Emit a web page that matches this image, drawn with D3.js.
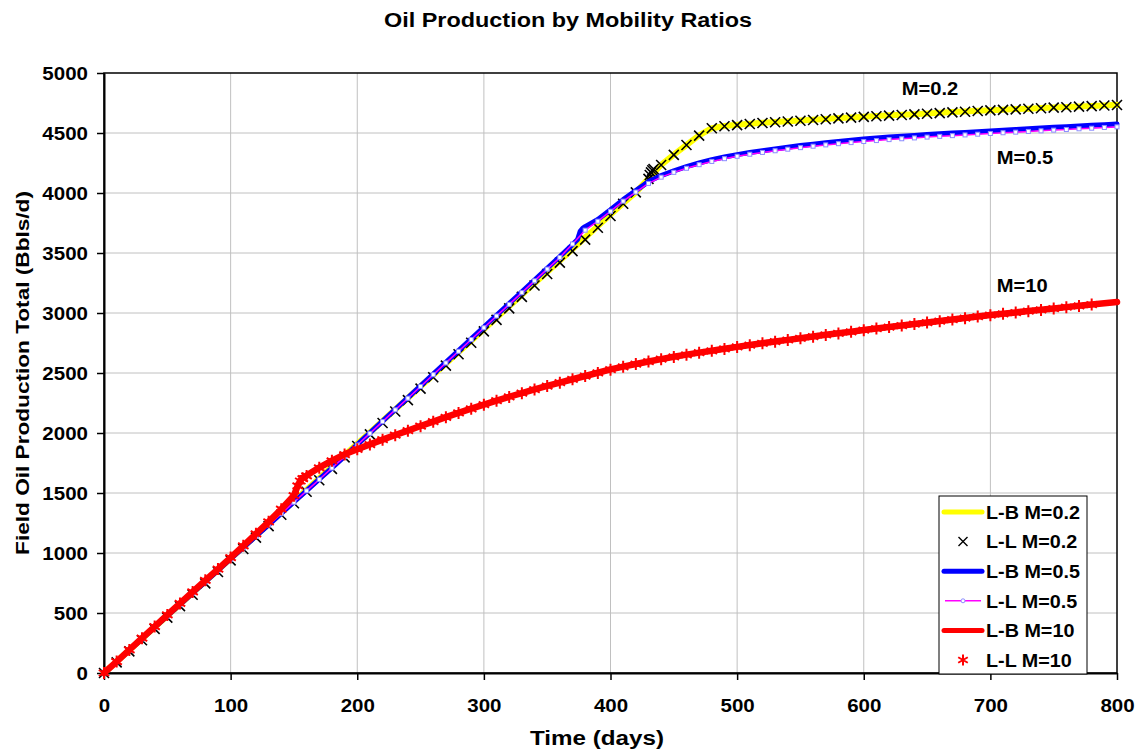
<!DOCTYPE html>
<html>
<head>
<meta charset="utf-8">
<script src="https://cdn.jsdelivr.net/npm/d3@7"></script>
<style>
  body { margin: 0; background: #fff; }
  text { font-family: "Liberation Sans", Arial, sans-serif; font-weight: bold; fill: #000; }
</style>
</head>
<body>
<svg id="chart" width="1135" height="750"></svg>
<script>
// ---- data: [day, cumulative oil (Bbls)] ----
const lbM02 = [[0,0],[10,95],[20,191],[30,286],[40,382],[50,477],[60,573],[70,668],[80,764],[90,859],[100,955],
  [110,1050],[120,1146],[130,1241],[140,1337],[150,1432],[160,1528],[170,1623],[180,1719],[190,1814],[200,1910],
  [210,2005],[220,2101],[230,2196],[240,2292],[250,2387],[260,2483],[270,2578],[280,2674],[290,2769],[300,2865],
  [310,2960],[320,3056],[330,3151],[340,3247],[350,3342],[360,3438],[370,3533],[380,3629],[390,3724],[400,3820],
  [410,3914],[420,4005],[430,4120],[440,4235],[450,4320],[460,4400],[470,4480],[480,4540],[490,4558],[500,4568],
  [510,4577],[520,4585],[530,4592],[540,4598],[550,4604],[560,4610],[570,4617],[580,4625],[590,4630],[600,4636],
  [610,4641],[620,4647],[630,4652],[640,4657],[650,4662],[660,4668],[670,4674],[680,4679],[690,4685],[700,4690],
  [710,4694],[720,4699],[730,4703],[740,4708],[750,4712],[760,4717],[770,4721],[780,4726],[790,4730],[800,4735]];

const llM02 = [[0,0],[10,88],[20,180],[30,273],[40,368],[50,462],[60,557],[70,652],[80,747],[90,842],[100,938],
  [110,1033],[120,1128],[130,1224],[140,1319],[150,1415],[160,1510],[170,1606],[180,1701],[190,1797],[200,1892],
  [210,1988],[220,2083],[230,2179],[240,2274],[250,2370],[260,2465],[270,2561],[280,2656],[290,2752],[300,2847],
  [310,2943],[320,3038],[330,3134],[340,3229],[350,3325],[360,3420],[370,3516],[380,3612],[390,3710],[400,3808],
  [410,3910],[420,4005],[430,4118],[431,4150],[432,4172],[433,4190],[434,4200],[440,4233],[450,4318],[460,4400],
  [470,4478],[480,4540],[490,4556],[500,4566],[510,4575],[520,4583],[530,4590],[540,4596],[550,4602],[560,4608],
  [570,4615],[580,4622],[590,4628],[600,4634],[610,4640],[620,4645],[630,4650],[640,4655],[650,4660],[660,4666],
  [670,4672],[680,4677],[690,4683],[700,4688],[710,4693],[720,4697],[730,4702],[740,4706],[750,4711],[760,4715],
  [770,4720],[780,4724],[790,4729],[800,4733]];

const lbM05 = [[0,0],[10,95],[20,190],[30,285],[40,380],[50,475],[60,570],[70,665],[80,760],[90,855],[100,950],
  [110,1045],[120,1140],[130,1235],[140,1330],[150,1425],[160,1520],[170,1615],[180,1710],[190,1805],[200,1903],
  [210,2001],[220,2099],[230,2197],[240,2295],[250,2393],[260,2491],[270,2589],[280,2687],[290,2785],[300,2883],
  [310,2981],[320,3079],[330,3177],[340,3275],[350,3373],[360,3471],[370,3570],[374,3612],[376,3680],[378,3705],
  [380,3720],[390,3780],[400,3860],[410,3945],[420,4020],[430,4095],[440,4145],[450,4185],[460,4220],[470,4250],
  [480,4278],[490,4300],[500,4320],[510,4337],[520,4352],[530,4367],[540,4381],[550,4395],[560,4407],[570,4419],
  [580,4430],[590,4440],[600,4450],[610,4458],[620,4466],[630,4473],[640,4480],[650,4487],[660,4493],[670,4499],
  [680,4505],[690,4511],[700,4517],[710,4523],[720,4529],[730,4535],[740,4541],[750,4547],[760,4553],[770,4558],
  [780,4564],[790,4569],[800,4575]];

const llM05 = [[0,0],[10,94],[20,189],[30,284],[40,379],[50,474],[60,569],[70,664],[80,759],[90,854],[100,948],
  [110,1043],[120,1138],[130,1233],[140,1328],[150,1423],[160,1518],[170,1613],[180,1708],[190,1803],[200,1900],
  [210,1997],[220,2095],[230,2193],[240,2290],[250,2388],[260,2486],[270,2584],[280,2681],[290,2779],[300,2877],
  [310,2975],[320,3072],[330,3170],[340,3268],[350,3366],[360,3463],[370,3575],[380,3690],[390,3765],[400,3848],
  [410,3932],[420,4008],[430,4080],[440,4132],[450,4172],[460,4206],[470,4236],[480,4263],[490,4286],[500,4306],
  [510,4323],[520,4338],[530,4352],[540,4365],[550,4378],[560,4390],[570,4401],[580,4411],[590,4420],[600,4429],
  [610,4437],[620,4445],[630,4452],[640,4459],[650,4466],[660,4472],[670,4478],[680,4484],[690,4490],[700,4496],
  [710,4502],[720,4507],[730,4513],[740,4518],[750,4524],[760,4529],[770,4535],[780,4540],[790,4546],[800,4551]];

const lbM10 = [[0,0],[10,95],[20,192],[30,290],[40,387],[50,484],[60,580],[70,676],[80,772],[90,866],[100,962],
  [110,1060],[120,1160],[130,1260],[140,1365],[150,1480],[153,1560],[156,1620],[160,1645],[170,1712],[180,1770],
  [190,1822],[200,1865],[210,1905],[220,1945],[230,1983],[240,2020],[250,2058],[260,2095],[270,2132],[280,2168],
  [290,2203],[300,2237],[310,2270],[320,2302],[330,2333],[340,2363],[350,2392],[360,2420],[370,2448],[380,2475],
  [390,2502],[400,2530],[410,2553],[420,2575],[430,2596],[440,2616],[450,2635],[460,2653],[470,2670],[480,2686],
  [490,2702],[500,2718],[510,2733],[520,2748],[530,2762],[540,2776],[550,2790],[560,2804],[570,2818],[580,2831],
  [590,2844],[600,2858],[610,2871],[620,2884],[630,2896],[640,2909],[650,2921],[660,2933],[670,2946],[680,2958],
  [690,2971],[700,2983],[710,2994],[720,3005],[730,3016],[740,3027],[750,3038],[760,3049],[770,3060],[780,3071],
  [790,3081],[800,3092]];

const llM10 = [[0,0],[10,95],[20,192],[30,290],[40,387],[50,484],[60,580],[70,676],[80,772],[90,866],[100,962],
  [110,1060],[120,1160],[130,1260],[140,1365],[150,1478],[153,1560],[155,1600],[157,1620],[160,1642],[170,1710],
  [180,1768],[190,1820],[200,1864],[210,1904],[220,1944],[230,1982],[240,2019],[250,2057],[260,2094],[270,2131],
  [280,2167],[290,2202],[300,2236],[310,2269],[320,2301],[330,2332],[340,2362],[350,2391],[360,2419],[370,2447],
  [380,2474],[390,2501],[400,2528],[410,2552],[420,2574],[430,2595],[440,2615],[450,2634],[460,2652],[470,2669],
  [480,2685],[490,2701],[500,2717],[510,2732],[520,2747],[530,2761],[540,2775],[550,2789],[560,2803],[570,2817],
  [580,2830],[590,2843],[600,2857],[610,2870],[620,2883],[630,2895],[640,2908],[650,2920],[660,2932],[670,2945],
  [680,2957],[690,2970],[700,2982],[710,2993],[720,3004],[730,3015],[740,3026],[750,3037],[760,3048],[770,3059],
  [780,3070]];

const xTicks = [0, 100, 200, 300, 400, 500, 600, 700, 800];
const yTicks = [0, 500, 1000, 1500, 2000, 2500, 3000, 3500, 4000, 4500, 5000];
const legendLabels = ["L-B M=0.2", "L-L M=0.2", "L-B M=0.5", "L-L M=0.5", "L-B M=10", "L-L M=10"];
const curveLabels = [
  { text: "M=0.2", day: 630, value: 4875 },
  { text: "M=0.5", day: 705, value: 4300 },
  { text: "M=10",  day: 705, value: 3235 }
];

// ---- layout ----
const plot = { left: 104, right: 1117, top: 73, bottom: 673 };
const svg = d3.select("#chart");
const x = d3.scaleLinear().domain([0, 800]).range([plot.left, plot.right]);
const y = d3.scaleLinear().domain([0, 5000]).range([plot.bottom, plot.top]);

// widen glyphs horizontally like the original bold face
function widen(sel, k) {
  sel.each(function () {
    const len = this.getComputedTextLength();
    d3.select(this).attr("textLength", len * k).attr("lengthAdjust", "spacingAndGlyphs");
  });
}

// grid
const grid = svg.append("g").attr("stroke", "#c0c0c0").attr("stroke-width", 1);
grid.selectAll("line.v").data(xTicks.slice(1, -1)).join("line")
  .attr("x1", d => x(d)).attr("x2", d => x(d)).attr("y1", plot.top).attr("y2", plot.bottom);
grid.selectAll("line.h").data(yTicks.slice(1, -1)).join("line")
  .attr("y1", d => y(d)).attr("y2", d => y(d)).attr("x1", plot.left).attr("x2", plot.right);

// plot frame
svg.append("rect").attr("x", plot.left).attr("y", plot.top)
  .attr("width", plot.right - plot.left).attr("height", plot.bottom - plot.top)
  .attr("fill", "none").attr("stroke", "#000").attr("stroke-width", 1.5);

// axes
const xAxis = svg.append("g").attr("transform", `translate(0,${plot.bottom})`)
  .call(d3.axisBottom(x).tickValues(xTicks).tickFormat(d3.format("d"))
    .tickSize(7).tickSizeOuter(0).tickPadding(19));
const yAxis = svg.append("g").attr("transform", `translate(${plot.left},0)`)
  .call(d3.axisLeft(y).tickValues(yTicks).tickFormat(d3.format("d"))
    .tickSize(7).tickSizeOuter(0).tickPadding(9));
[xAxis, yAxis].forEach(a => {
  a.select(".domain").attr("stroke", "#000").attr("stroke-width", 2);
  a.selectAll(".tick line").attr("stroke", "#000").attr("stroke-width", 1.5);
  a.selectAll(".tick text").attr("font-size", 19).attr("font-family", null).call(widen, 1.08);
});

// series lines
const line = d3.line().x(d => x(d[0])).y(d => y(d[1]));
function drawLine(data, color, width) {
  svg.append("path").datum(data).attr("d", line)
    .attr("fill", "none").attr("stroke", color).attr("stroke-width", width)
    .attr("stroke-linejoin", "round").attr("stroke-linecap", "round");
}
const timesPath = r => `M${-r},${-r}L${r},${r}M${-r},${r}L${r},${-r}`;
const starPath = r => {
  const a = r * 0.87, b = r * 0.5;
  return `M0,${-r}L0,${r}M${-a},${-b}L${a},${b}M${-a},${b}L${a},${-b}`;
};

drawLine(lbM02, "#ffff00", 6);
svg.append("g").selectAll("path").data(llM02).join("path")
  .attr("transform", d => `translate(${x(d[0])},${y(d[1])})`)
  .attr("d", timesPath(5)).attr("stroke", "#000").attr("stroke-width", 1.6).attr("fill", "none");

drawLine(lbM05, "#0000ff", 5);
drawLine(llM05, "#ff00ff", 1.5);
svg.append("g").selectAll("rect").data(llM05).join("rect")
  .attr("x", d => x(d[0]) - 2).attr("y", d => y(d[1]) - 2).attr("width", 4).attr("height", 4)
  .attr("fill", "#ffffff").attr("stroke", "#8c8cff").attr("stroke-width", 1);

drawLine(lbM10, "#ff0000", 6.5);
svg.append("g").selectAll("path").data(llM10).join("path")
  .attr("transform", d => `translate(${x(d[0])},${y(d[1])})`)
  .attr("d", starPath(6)).attr("stroke", "#ff0000").attr("stroke-width", 2).attr("fill", "none");

// curve annotations
svg.append("g").selectAll("text").data(curveLabels).join("text")
  .attr("x", d => x(d.day)).attr("y", d => y(d.value)).attr("dy", "0.36em")
  .attr("font-size", 19).text(d => d.text).call(widen, 1.06);

// legend
const legend = svg.append("g");
legend.append("rect").attr("x", 939).attr("y", 496).attr("width", 148).attr("height", 178)
  .attr("fill", "#fff").attr("stroke", "#000").attr("stroke-width", 1);
const rows = legend.selectAll("g.row").data(legendLabels).join("g")
  .attr("transform", (d, i) => `translate(944,${512 + i * 29.6})`);
rows.each(function (d, i) {
  const g = d3.select(this);
  if (i === 0) g.append("line").attr("x1", 0).attr("x2", 38).attr("stroke", "#ffff00").attr("stroke-width", 5).attr("stroke-linecap", "round");
  if (i === 1) g.append("path").attr("transform", "translate(19,0)").attr("d", timesPath(4.5)).attr("stroke", "#000").attr("stroke-width", 1.4);
  if (i === 2) g.append("line").attr("x1", 0).attr("x2", 38).attr("stroke", "#0000ff").attr("stroke-width", 5).attr("stroke-linecap", "round");
  if (i === 3) {
    g.append("line").attr("x1", 1).attr("x2", 37).attr("stroke", "#ff00ff").attr("stroke-width", 1.5);
    g.append("circle").attr("cx", 19).attr("r", 2).attr("fill", "#fff").attr("stroke", "#8c8cff");
  }
  if (i === 4) g.append("line").attr("x1", 0).attr("x2", 38).attr("stroke", "#ff0000").attr("stroke-width", 5).attr("stroke-linecap", "round");
  if (i === 5) g.append("path").attr("transform", "translate(19,0)").attr("d", starPath(5.5)).attr("stroke", "#ff0000").attr("stroke-width", 2);
});
rows.append("text").attr("x", 42).attr("dy", "0.36em").attr("font-size", 19)
  .text(d => d).call(widen, 1.04);

// titles
svg.append("text").attr("x", 568).attr("y", 20).attr("dy", "0.36em").attr("text-anchor", "middle")
  .attr("font-size", 20).text("Oil Production by Mobility Ratios").call(widen, 1.17);
svg.append("text").attr("x", 597).attr("y", 738).attr("dy", "0.36em").attr("text-anchor", "middle")
  .attr("font-size", 19.5).text("Time (days)").call(widen, 1.24);
svg.append("text").attr("transform", "translate(22,373) rotate(-90)").attr("dy", "0.36em")
  .attr("text-anchor", "middle").attr("font-size", 19)
  .text("Field Oil Production Total (Bbls/d)").call(widen, 1.19);
</script>
</body>
</html>
